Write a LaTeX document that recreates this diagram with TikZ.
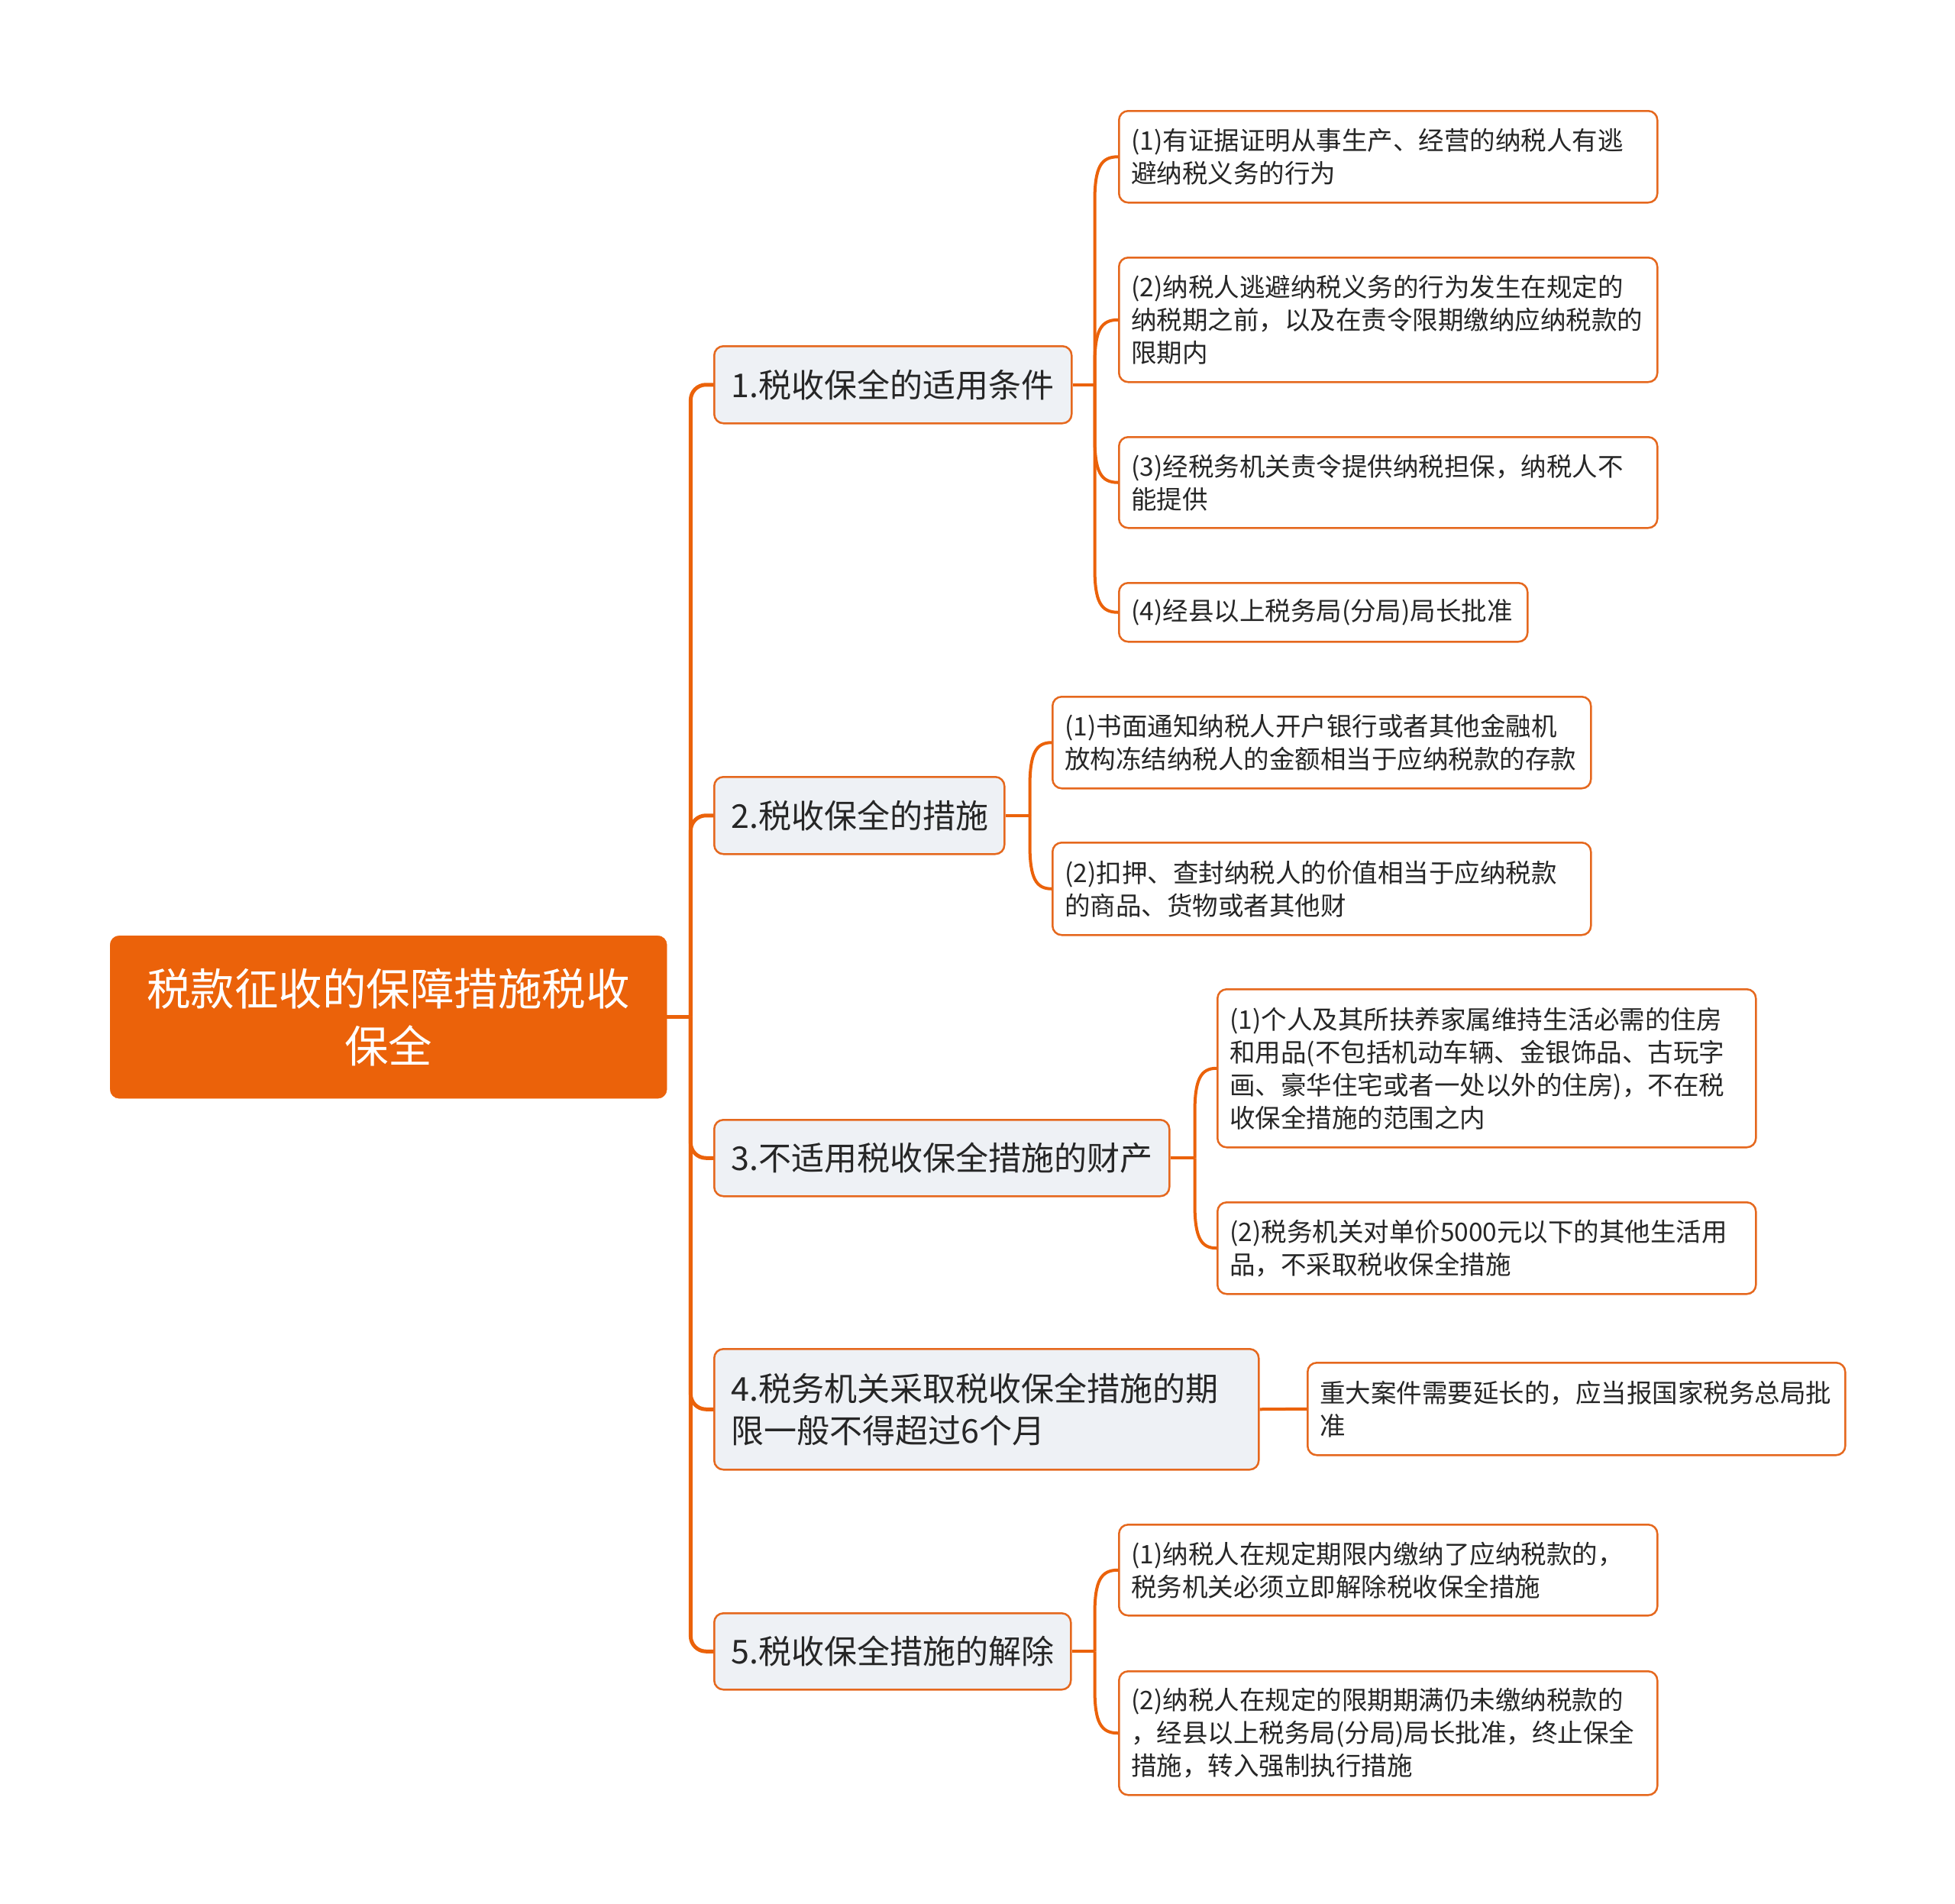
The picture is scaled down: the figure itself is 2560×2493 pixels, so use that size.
\documentclass[tikz,border=0pt]{standalone}
\usepackage{fontspec}
\setmainfont{Noto Sans CJK SC}
\usetikzlibrary{calc}
\definecolor{org}{RGB}{235,98,10}
\definecolor{bord}{RGB}{229,104,30}
\definecolor{lvfill}{RGB}{238,241,245}
\definecolor{txt}{RGB}{38,38,38}
\tikzset{
  rootbox/.style={draw=org, fill=org, rounded corners=12, text=white, align=center,
    font=\fontsize{57.5}{75}\selectfont, anchor=north west, inner sep=0pt},
  lvone/.style={draw=bord, line width=2.5, fill=lvfill, rounded corners=12, text=txt, align=left,
    font=\fontsize{43}{55.5}\selectfont, anchor=north west, inner xsep=22pt, inner ysep=0pt},
  lvtwo/.style={draw=bord, line width=2.5, fill=white, rounded corners=12, text=txt, align=left,
    font=\fontsize{33.5}{43}\selectfont, anchor=north west, inner xsep=16pt, inner ysep=0pt},
  trunk/.style={draw=org, line width=5, rounded corners=20},
  conn/.style={draw=org, line width=4},
}
\newcommand\kidup[2]{\draw[conn] (#1) -- ($(#1|-#2.west)+(0,58)$) .. controls ($(#1|-#2.west)+(0,14)$) and ($(#1|-#2.west)+(8,0)$) .. (#2.west);}
\newcommand\kiddown[2]{\draw[conn] (#1) -- ($(#1|-#2.west)+(0,-58)$) .. controls ($(#1|-#2.west)+(0,-14)$) and ($(#1|-#2.west)+(8,0)$) .. (#2.west);}
\begin{document}
\begin{tikzpicture}[x=1pt,y=-1pt]
\fill[white] (0,0) rectangle (2560,2493);
\useasboundingbox (0,0) rectangle (2560,2493);

% root
\node[rootbox, minimum width=729pt, minimum height=213pt] (root) at (144,1225)
  {税款征收的保障措施税收\\保全};

% level 1
\node[lvone, text width=424pt, minimum height=101pt] (n1) at (934,452) {1.税收保全的适用条件};
\node[lvone, text width=336pt, minimum height=101pt] (n2) at (934,1016) {2.税收保全的措施};
\node[lvone, text width=552pt, minimum height=100pt] (n3) at (934,1465) {3.不适用税收保全措施的财产};
\node[lvone, text width=669pt, minimum height=158pt] (n4) at (934,1765) {4.税务机关采取税收保全措施的期\\限一般不得超过6个月};
\node[lvone, text width=423pt, minimum height=100pt] (n5) at (934,2111) {5.税收保全措施的解除};

% level 2
\node[lvtwo, text width=673pt, minimum height=120pt] (c11) at (1464,144)
  {(1)有证据证明从事生产、经营的纳税人有逃\\避纳税义务的行为};
\node[lvtwo, text width=673pt, minimum height=163pt] (c12) at (1464,336)
  {(2)纳税人逃避纳税义务的行为发生在规定的\\纳税期之前，以及在责令限期缴纳应纳税款的\\限期内};
\node[lvtwo, text width=673pt, minimum height=119pt] (c13) at (1464,571)
  {(3)经税务机关责令提供纳税担保，纳税人不\\能提供};
\node[lvtwo, text width=503pt, minimum height=77pt] (c14) at (1464,762)
  {(4)经县以上税务局(分局)局长批准};
\node[lvtwo, text width=673pt, minimum height=120pt] (c21) at (1377,911)
  {(1)书面通知纳税人开户银行或者其他金融机\\放构冻结纳税人的金额相当于应纳税款的存款};
\node[lvtwo, text width=673pt, minimum height=121pt] (c22) at (1377,1102)
  {(2)扣押、查封纳税人的价值相当于应纳税款\\的商品、货物或者其他财};
\node[lvtwo, text width=673pt, minimum height=207pt] (c31) at (1593,1294)
  {(1)个人及其所扶养家属维持生活必需的住房\\和用品(不包括机动车辆、金银饰品、古玩字\\画、豪华住宅或者一处以外的住房)，不在税\\收保全措施的范围之内};
\node[lvtwo, text width=673pt, minimum height=120pt] (c32) at (1593,1573)
  {(2)税务机关对单价5000元以下的其他生活用\\品，不采取税收保全措施};
\node[lvtwo, text width=672pt, minimum height=121pt] (c41) at (1711,1783)
  {重大案件需要延长的，应当报国家税务总局批\\准};
\node[lvtwo, text width=673pt, minimum height=119pt] (c51) at (1464,1995)
  {(1)纳税人在规定期限内缴纳了应纳税款的，\\税务机关必须立即解除税收保全措施};
\node[lvtwo, text width=673pt, minimum height=162pt] (c52) at (1464,2187)
  {(2)纳税人在规定的限期期满仍未缴纳税款的\\，经县以上税务局(分局)局长批准，终止保全\\措施，转入强制执行措施};

% trunk
\coordinate (t0) at ($(root.east)+(31,0)$);
\draw[trunk] (root.east) -- (t0);
\draw[trunk] (t0) |- (n1.west);
\draw[trunk] (t0) |- (n2.west);
\draw[trunk] (t0) |- (n3.west);
\draw[trunk] (t0) |- (n4.west);
\draw[trunk] (t0) |- (n5.west);

% group 1
\coordinate (v1) at ($(n1.east)+(29,0)$);
\draw[conn] (n1.east) -- (v1);
\kidup{v1}{c11}
\kidup{v1}{c12}
\kiddown{v1}{c13}
\kiddown{v1}{c14}

% group 2
\coordinate (v2) at ($(n2.east)+(32,0)$);
\draw[conn] (n2.east) -- (v2);
\kidup{v2}{c21}
\kiddown{v2}{c22}

% group 3
\coordinate (v3) at ($(n3.east)+(32,0)$);
\draw[conn] (n3.east) -- (v3);
\kidup{v3}{c31}
\kiddown{v3}{c32}

% group 4
\draw[conn] (n4.east) -- (c41.west);

% group 5
\coordinate (v5) at ($(n5.east)+(30,0)$);
\draw[conn] (n5.east) -- (v5);
\kidup{v5}{c51}
\kiddown{v5}{c52}
\end{tikzpicture}
\end{document}
